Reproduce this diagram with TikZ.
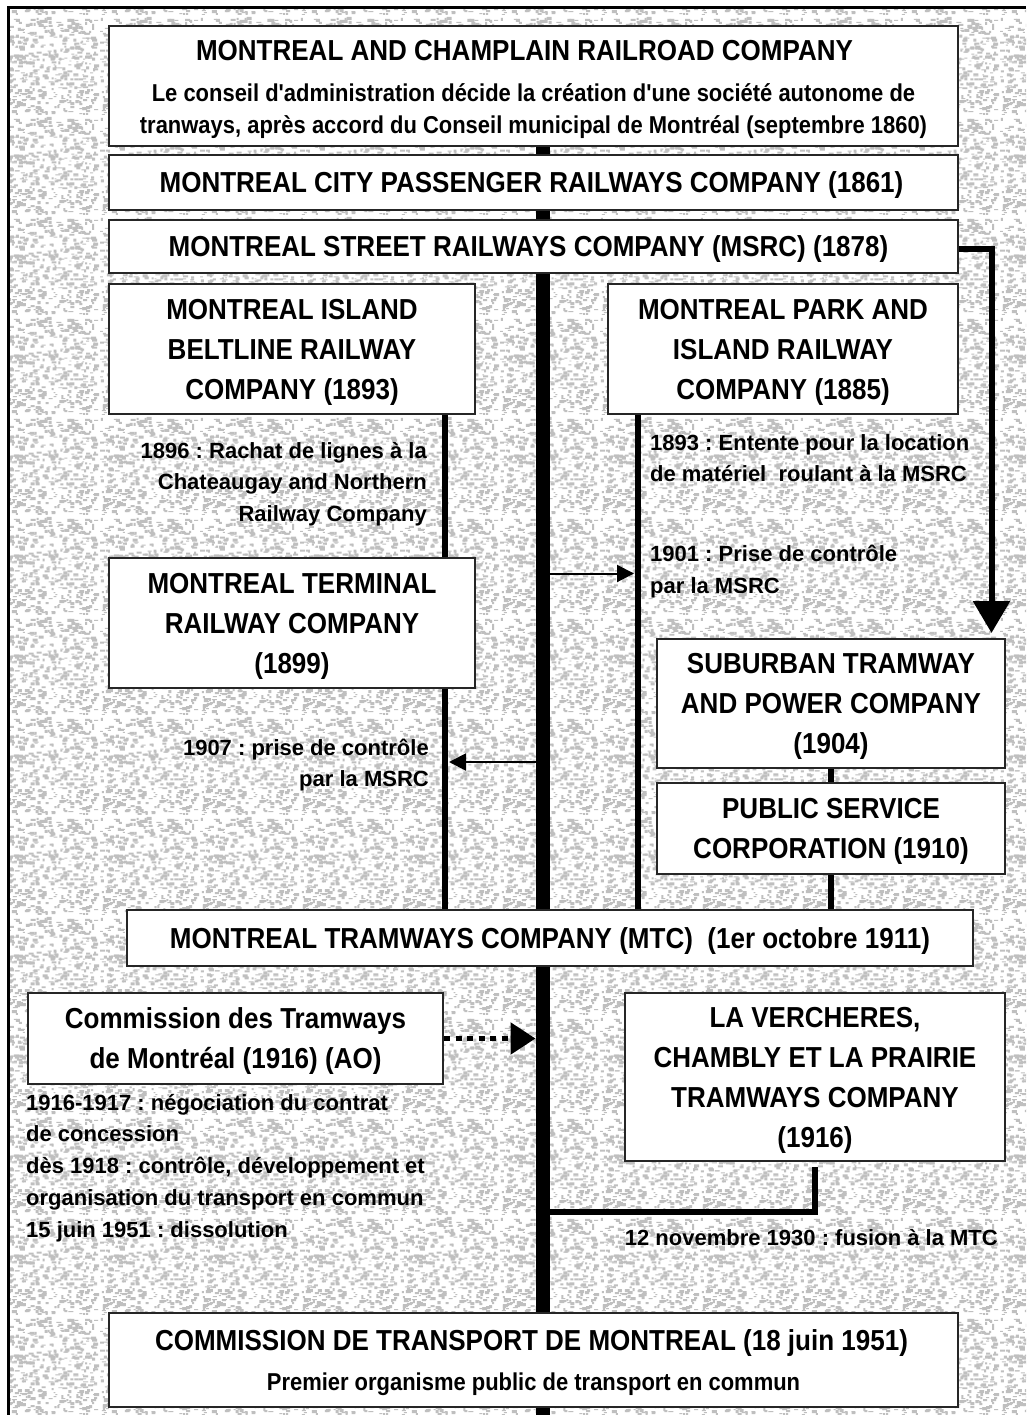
\documentclass[tikz,border=0pt]{standalone}
\usepackage{fontspec}
\setmainfont{Liberation Sans}
\newfontfamily\titlefam{Liberation Sans}[FakeStretch=0.9]
\usetikzlibrary{arrows.meta,patterns}
\pgfdeclarelayer{paper}
\pgfdeclarelayer{lines}
\pgfsetlayers{paper,lines,main}
\pgfdeclarepatternformonly{speckle}{\pgfpointorigin}{\pgfpoint{100pt}{100pt}}{\pgfpoint{100pt}{100pt}}{%
  \pgfmathsetseed{11}%
  \foreach \i in {1,...,520}{%
    \pgfmathrandominteger{\xx}{0}{95}%
    \pgfmathrandominteger{\yy}{0}{96}%
    \pgfmathrandominteger{\ww}{2}{5}%
    \pgfmathrandominteger{\hh}{1}{3}%
    \pgfpathrectangle{\pgfpoint{\xx pt}{\yy pt}}{\pgfpoint{\ww pt}{\hh pt}}%
    \pgfusepath{fill}%
  }%
}
\newcommand\mytitlefont{\frenchspacing\titlefam\bfseries\fontsize{28.9}{40}\selectfont}
\newcommand\mysubfont{\frenchspacing\bfseries\fontsize{24.4}{32}\selectfont}
\newcommand\mynotefont{\frenchspacing\bfseries\fontsize{22}{31.7}\selectfont}
\newcommand\nstrut{\rule{0pt}{17pt}}
\begin{document}
\begin{tikzpicture}[x=1pt,y=-1pt,
  box/.style={draw=black!85,line width=2pt,fill=white,align=center,inner sep=0pt,
    text depth=0pt,font=\mytitlefont},
  note/.style={inner sep=0pt,font=\mynotefont},
  trunk/.style={line width=14pt},
  link/.style={line width=6pt},
  thinarrow/.style={line width=2pt,-{Triangle[length=17pt,width=17pt]}},
  bigarrow/.style={line width=6pt,line join=miter,-{Triangle[length=32pt,width=36pt]}},
  dotarrow/.style={line width=5.5pt,dash pattern=on 6pt off 5.5pt,-{Triangle[length=25pt,width=31pt]}}
]
\useasboundingbox (0,0) rectangle (1026,1415);

% ---- boxes ----
\node[box, minimum width=849, minimum height=120] (mcr) at (533.5,86)
  {\rule{0pt}{23pt}MONTREAL AND CHAMPLAIN RAILROAD COMPANY\hspace*{18pt}\\[1pt]{\mysubfont Le conseil d'administration décide la création d'une société autonome de}\\[-8pt]{\mysubfont tranways, après accord du Conseil municipal de Montréal (septembre 1860)}};
\node[box, minimum width=849, minimum height=55] (mcp) at (533.5,182.5)
  {MONTREAL CITY PASSENGER RAILWAYS COMPANY (1861)\hspace*{4pt}};
\node[box, minimum width=849, minimum height=53] (msrc) at (533.5,246.5)
  {MONTREAL STREET RAILWAYS COMPANY (MSRC) (1878)\hspace*{10pt}};
\node[box, minimum width=366, minimum height=130] (belt) at (292,349)
  {MONTREAL ISLAND\\BELTLINE RAILWAY\\COMPANY (1893)};
\node[box, minimum width=350, minimum height=130] (park) at (783,349)
  {MONTREAL PARK AND\\ISLAND RAILWAY\\COMPANY (1885)};
\node[box, minimum width=366, minimum height=130] (term) at (292,623)
  {MONTREAL TERMINAL\\RAILWAY COMPANY\\(1899)};
\node[box, minimum width=348, minimum height=129] (sub) at (831,703.5)
  {SUBURBAN TRAMWAY\\AND POWER COMPANY\\(1904)};
\node[box, minimum width=348, minimum height=91] (pub) at (831,828.5)
  {PUBLIC SERVICE\\CORPORATION (1910)};
\node[box, minimum width=846, minimum height=56] (mtc) at (550,938)
  {MONTREAL TRAMWAYS COMPANY (MTC)~ (1er octobre 1911)};
\node[box, minimum width=415, minimum height=91] (cdt) at (235.5,1038.5)
  {Commission des Tramways\\de Montréal (1916) (AO)};
\node[box, minimum width=380, minimum height=168] (lvc) at (815,1077)
  {LA VERCHERES,\\CHAMBLY ET LA PRAIRIE\\TRAMWAYS COMPANY\\(1916)};
\node[box, minimum width=849, minimum height=94] (ctm) at (533.5,1360)
  {COMMISSION DE TRANSPORT DE MONTREAL (18 juin 1951)\hspace*{4pt}\\[0.5pt]{\mysubfont Premier organisme public de transport en commun}};

% ---- notes ----
\node[note, anchor=north east, align=right] (n1896) at (427,441)
  {\nstrut 1896 : Rachat de lignes à la\\Chateaugay and Northern\\Railway Company};
\node[note, anchor=north west, align=left] (n1893) at (650,433)
  {\nstrut 1893 : Entente pour la location\\de matériel~ roulant à la MSRC};
\node[note, anchor=north west, align=left] (n1901) at (650,544.7)
  {\nstrut 1901 : Prise de contrôle\\par la MSRC};
\node[note, anchor=north east, align=right] (n1907) at (429,738)
  {\nstrut 1907 : prise de contrôle\\par la MSRC};
\node[note, anchor=north west, align=left] (nctm) at (26,1093)
  {\nstrut 1916-1917 : négociation du contrat\\de concession\\dès 1918 : contrôle, développement et\\organisation du transport en commun\\15 juin 1951 : dissolution};
\node[note, anchor=north east] (n1930) at (998,1228)
  {\nstrut 12 novembre 1930 : fusion à la MTC};

% ---- coordinates ----
\coordinate (xt) at (542.5,1415);
\coordinate (xl) at (445,0);
\coordinate (xp) at (638,0);
\coordinate (fj) at (542.5,1211.5);
\coordinate (ar) at (991.5,633);
\coordinate (a1s) at (549.5,573.5);
\coordinate (a1e) at (634,573.5);
\coordinate (a2s) at (535.5,762);
\coordinate (a2e) at (449,762);
\coordinate (dte) at (535.5,1038.5);

% ---- background ----
\begin{pgfonlayer}{paper}
  \fill[white] (0,0) rectangle (1026,1415);
  \fill[pattern=speckle, pattern color=black!25] (10,9) rectangle (1026,1415);
  \draw[line width=3pt,line join=miter] (8.5,1415) -- (8.5,7.5) -- (1026,7.5);
\end{pgfonlayer}

% ---- lines behind boxes ----
\begin{pgfonlayer}{lines}
  \draw[trunk] (mcr.south -| xt) -- (xt);
  \draw[link] (belt.south -| xl) -- (mtc.north -| xl);
  \draw[link] (park.south -| xp) -- (mtc.north -| xp);
  \draw[link] (sub.south) -- (pub.north);
  \draw[link] (pub.south) -- (mtc.north -| pub.south);
  \draw[link,line join=miter] ([yshift=-5pt]lvc.south) |- (fj);
\end{pgfonlayer}

% ---- arrows ----
\draw[bigarrow] ([yshift=-3pt]msrc.east) -| (ar);
\draw[thinarrow] (a1s) -- (a1e);
\draw[thinarrow] (a2s) -- (a2e);
\draw[dotarrow] (cdt.east) -- (dte);
\end{tikzpicture}
\end{document}
